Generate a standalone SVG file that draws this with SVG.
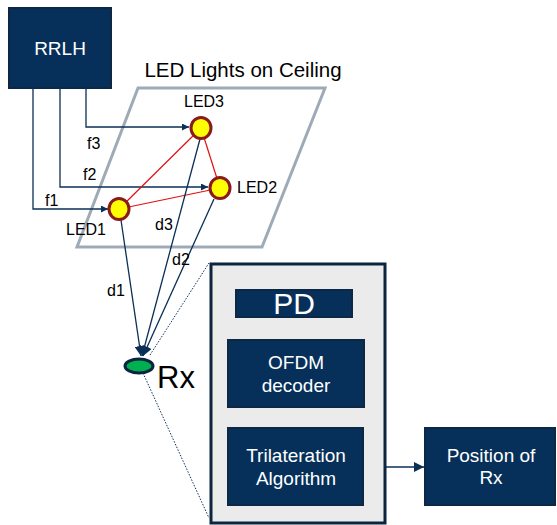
<svg xmlns="http://www.w3.org/2000/svg" width="557" height="525" viewBox="0 0 557 525">
<defs>
<marker id="ah" viewBox="0 0 10 10" refX="10" refY="5" markerWidth="7" markerHeight="7" markerUnits="userSpaceOnUse" orient="auto">
<path d="M0,0 L10,5 L0,10 z" fill="#0b2f55"/>
</marker>
<marker id="ah2" viewBox="0 0 10 10" refX="10" refY="5" markerWidth="10" markerHeight="10" markerUnits="userSpaceOnUse" orient="auto">
<path d="M0,0 L10,5 L0,10 z" fill="#0b2f55"/>
</marker>
</defs>
<style>
.box{fill:#06305a;stroke:#0c2845;stroke-width:2}
.wt{fill:#ffffff;font-family:"Liberation Sans",Arial,sans-serif;text-anchor:middle}
.bt{fill:#000000;font-family:"Liberation Sans",Arial,sans-serif}
.conn{fill:none;stroke:#0b2f55;stroke-width:1.3}
.red{stroke:#e01010;stroke-width:1.2}
.led{fill:#ffff00;stroke:#8b1a1a;stroke-width:3}
.dot{fill:none;stroke:#0b2f55;stroke-width:1;stroke-dasharray:1.5,1.5}
</style>
<rect width="557" height="525" fill="#ffffff"/>
<g id="ceiling">
<polygon points="138,88 325,88 262,247 77,247" fill="none" stroke="#9eabb7" stroke-width="3"/>
<text class="bt" x="243" y="77" font-size="20.5" text-anchor="middle">LED Lights on Ceiling</text>
</g>
<g id="rrlh">
<rect class="box" x="9" y="8" width="102" height="80"/>
<text class="wt" x="60" y="55" font-size="19">RRLH</text>
</g>
<g id="connectors">
<polyline class="conn" points="33,88 33,209 108,209" marker-end="url(#ah)"/>
<polyline class="conn" points="60,88 60,187 208,187" marker-end="url(#ah)"/>
<polyline class="conn" points="86,88 86,127 189,127" marker-end="url(#ah)"/>
<line class="red" x1="119" y1="209" x2="201" y2="128"/>
<line class="red" x1="119" y1="209" x2="220" y2="188"/>
<line class="red" x1="201" y1="128" x2="220" y2="188"/>
<line class="conn" x1="121" y1="220" x2="141" y2="356" marker-end="url(#ah2)"/>
<line class="conn" x1="200" y1="139" x2="142" y2="356" marker-end="url(#ah2)"/>
<line class="conn" x1="214" y1="199" x2="143" y2="356" marker-end="url(#ah2)"/>
<line class="dot" x1="150" y1="355" x2="209" y2="263"/>
<line class="dot" x1="143" y1="373" x2="209" y2="518"/>
<line class="conn" x1="364" y1="467" x2="424" y2="467" marker-end="url(#ah2)"/>
<text class="bt" x="45" y="206" font-size="16">f1</text>
<text class="bt" x="83" y="180" font-size="16">f2</text>
<text class="bt" x="87" y="149" font-size="16">f3</text>
<text class="bt" x="107" y="296" font-size="16">d1</text>
<text class="bt" x="172" y="265" font-size="16">d2</text>
<text class="bt" x="155" y="230" font-size="16">d3</text>
</g>
<g id="led1">
<ellipse class="led" cx="119" cy="209" rx="10" ry="10.5"/>
<text class="bt" x="86" y="235" font-size="16" text-anchor="middle">LED1</text>
</g>
<g id="led2">
<ellipse class="led" cx="220" cy="188" rx="10" ry="10.5"/>
<text class="bt" x="237" y="193" font-size="16">LED2</text>
</g>
<g id="led3">
<ellipse class="led" cx="201" cy="128" rx="10" ry="10.5"/>
<text class="bt" x="204" y="107" font-size="16" text-anchor="middle">LED3</text>
</g>
<g id="rx">
<ellipse cx="139" cy="366" rx="14" ry="7" fill="#00b050" stroke="#0b2440" stroke-width="3"/>
<text class="bt" x="157" y="388" font-size="31">Rx</text>
</g>
<g id="receiver">
<rect x="211" y="264" width="174" height="259" fill="#ebebeb" stroke="#0b2440" stroke-width="3"/>
</g>
<g id="pd">
<rect class="box" x="236" y="290" width="116" height="27"/>
<text class="wt" x="294" y="314" font-size="30">PD</text>
</g>
<g id="ofdm">
<rect class="box" x="228" y="340" width="136" height="67"/>
<text class="wt" x="296" y="369" font-size="19">OFDM</text>
<text class="wt" x="296" y="392" font-size="19">decoder</text>
</g>
<g id="trilateration">
<rect class="box" x="228" y="428" width="135" height="77"/>
<text class="wt" x="296" y="462" font-size="19">Trilateration</text>
<text class="wt" x="296" y="485" font-size="19">Algorithm</text>
</g>
<g id="position">
<rect class="box" x="425" y="428" width="130" height="77"/>
<text class="wt" x="491" y="462" font-size="19">Position of</text>
<text class="wt" x="491" y="484" font-size="19">Rx</text>
</g>
</svg>
